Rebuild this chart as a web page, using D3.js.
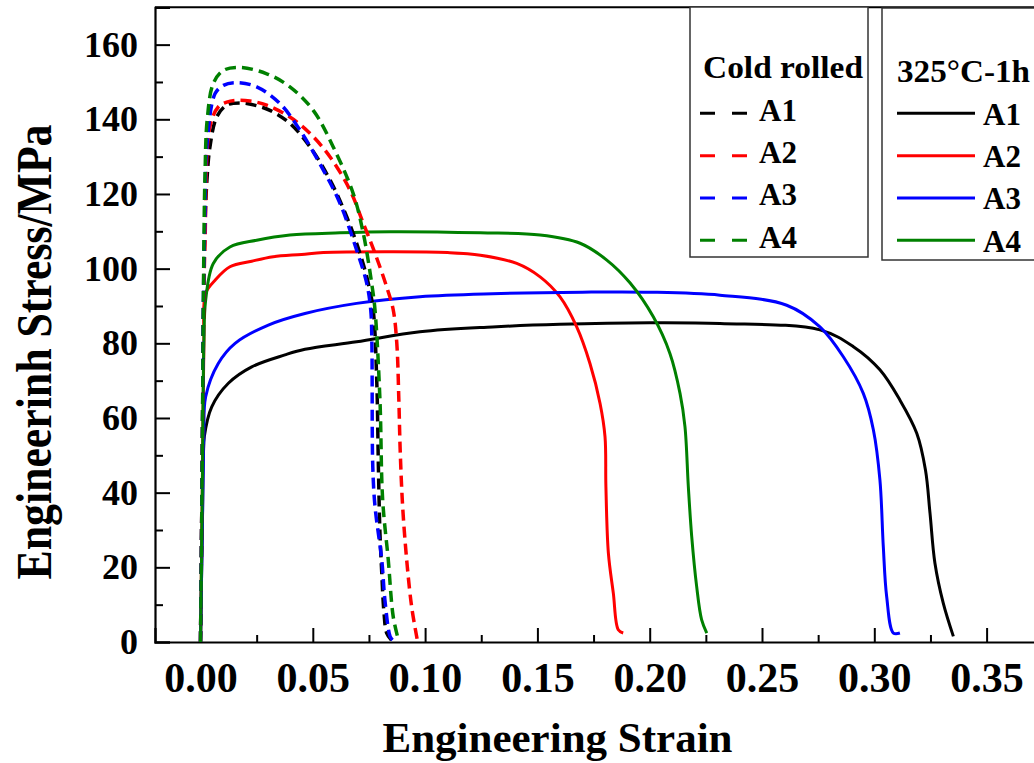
<!DOCTYPE html>
<html lang="en">
<head>
    <meta charset="UTF-8">
    <title>Engineering stress-strain curves</title>
    <style>
        body {
            margin: 0;
            background: #ffffff;
        }
        svg text {
            font-family: 'Liberation Serif', 'Times New Roman', serif;
            font-weight: bold;
        }
    </style>
</head>
<body>
    <div id="chart"></div>

    <script src="https://d3js.org/d3.v7.min.js"></script>
    <script>
        // Cold rolled curves (dashed), [strain, stress MPa]
        const coldA1 = [[0,0],[0.0008,50],[0.0014,90],[0.002,112],[0.003,125],[0.0042,132.6],[0.0072,140.6],[0.0117,143.8],
            [0.0176,144.4],[0.024,143.8],[0.0309,142.4],[0.0398,138.9],[0.0488,132.6],[0.0577,123.7],[0.0651,113.9],
            [0.071,104.1],[0.0747,96.1],[0.0769,88.9],[0.0785,69.3],[0.0792,47],[0.0799,29.2],[0.0807,18.5],
            [0.0817,7.8],[0.0829,2.4],[0.085,0.5]];
        const coldA2 = [[0,0],[0.0008,50],[0.0014,90],[0.002,106.8],[0.0042,138],[0.0079,143.3],[0.0117,144.6],[0.016,145.1],
            [0.022,144.9],[0.0295,143.8],[0.0398,140.6],[0.0488,136.2],[0.0577,129.9],[0.0666,121],[0.0725,112.1],
            [0.0777,104.1],[0.0829,95.1],[0.0858,89],[0.0874,80],[0.0883,65],[0.0889,51.5],[0.09,36.3],[0.0918,22],
            [0.094,9.5],[0.0965,0.6]];
        const coldA3 = [[0,0],[0.0008,50],[0.0013,91.6],[0.002,115],[0.0028,132.6],[0.0065,146.9],[0.0102,149.1],[0.0161,149.8],
            [0.025,148.7],[0.0354,144.2],[0.0443,137.1],[0.0547,126.4],[0.0621,117.5],[0.0695,105],[0.074,96.1],
            [0.0758,88.9],[0.0763,80],[0.0767,47],[0.0777,36.3],[0.0807,22],[0.0821,11.3],[0.0844,1.5],[0.0855,0.5]];
        const coldA4 = [[0,0],[0.0008,50],[0.0014,100],[0.002,125],[0.003,140],[0.0057,149.6],[0.0102,153.1],[0.0176,153.9],
            [0.0295,152.2],[0.0398,148.7],[0.0502,142.4],[0.0591,132.6],[0.068,120.1],[0.0725,109.4],[0.0762,96.1],
            [0.0777,88.9],[0.0799,64.8],[0.0811,38.1],[0.0836,22],[0.0858,6.8],[0.0881,0.6]];

        // 325°C-1h curves (solid)
        const annA1 = [[0,0],[0.0008,30],[0.0013,50],[0.0017,55],[0.005,63],[0.0124,69.3],[0.0228,73.7],[0.0376,76.9],
            [0.0465,78.4],[0.0695,80.4],[0.0977,83.1],[0.13,84.4],[0.16,85.1],[0.2,85.5],[0.2313,85.3],[0.2758,83.6],
            [0.2907,79.1],[0.3025,72.9],[0.3114,64.8],[0.3189,55.9],[0.3228,46],[0.3248,34.5],[0.327,21.1],
            [0.3307,10.4],[0.3352,1.5]];
        const annA2 = [[0,0],[0.0008,40],[0.0015,80],[0.0023,93.4],[0.0065,96.9],[0.0131,100.5],[0.0228,102],[0.0324,103.2],
            [0.045,103.8],[0.0547,104.3],[0.0844,104.5],[0.11,104.3],[0.1246,103.6],[0.1408,101.4],[0.1512,97.8],
            [0.16,92.5],[0.1675,84.4],[0.1734,74.6],[0.1779,63.9],[0.1801,55],[0.1805,41.6],[0.1816,23.8],
            [0.1838,13.1],[0.186,3.3],[0.1882,2.4]];
        const annA3 = [[0,0],[0.0008,30],[0.0015,55],[0.0023,65.7],[0.0079,74.6],[0.0154,80],[0.0302,84.9],[0.0465,88],
            [0.0695,90.7],[0.0977,92.5],[0.13,93.3],[0.17,93.7],[0.2,93.7],[0.2313,92.9],[0.261,90.2],[0.2758,84.4],
            [0.2862,76.4],[0.2951,66.6],[0.2996,56.8],[0.3025,43.4],[0.304,25.6],[0.3055,12.2],[0.3085,2.4],[0.3114,2.4]];
        const annA4 = [[0,0],[0.0008,40],[0.0015,80],[0.0023,91.6],[0.0057,101.4],[0.0131,105.8],[0.025,107.6],[0.0398,109],
            [0.0621,109.6],[0.0844,109.9],[0.1246,109.6],[0.1512,109],[0.169,106.8],[0.1809,102.3],[0.1912,96.2],
            [0.2016,87.1],[0.209,77.3],[0.2135,66.6],[0.2157,57.7],[0.2172,41.6],[0.2187,28.3],[0.2209,14.9],
            [0.2231,6],[0.2254,2.4]];

        const sampleNames = ['A1', 'A2', 'A3', 'A4'];
        const sampleColors = ['#000000', '#ff0000', '#0000ff', '#008000'];
        const xTicks = [0, 0.05, 0.10, 0.15, 0.20, 0.25, 0.30, 0.35];
        const yTicks = [0, 20, 40, 60, 80, 100, 120, 140, 160];

        const width = 1034, height = 763;
        const plotLeft = 155, plotTop = 7, plotBottom = 642;

        const svg = d3.select('#chart').append('svg')
            .attr('width', width)
            .attr('height', height)
            .style('background', '#ffffff');

        const x = d3.scaleLinear().domain([-0.02026, 0.375]).range([plotLeft, plotLeft + 0.39526 * 2246]);
        const y = d3.scaleLinear().domain([0, 170]).range([plotBottom, plotTop + 0.3]);

        // minor ticks first
        svg.append('g')
            .attr('transform', `translate(0,${plotBottom})`)
            .call(d3.axisBottom(x).tickValues(d3.range(0.025, 0.375, 0.05)).tickSize(-7).tickFormat(''))
            .call(g => g.select('.domain').remove())
            .selectAll('line').attr('stroke-width', 2);
        svg.append('g')
            .attr('transform', `translate(${plotLeft},0)`)
            .call(d3.axisLeft(y).tickValues(d3.range(10, 170, 20)).tickSize(-8).tickFormat(''))
            .call(g => g.select('.domain').remove())
            .selectAll('line').attr('stroke-width', 2);

        const xAxis = svg.append('g')
            .attr('transform', `translate(0,${plotBottom})`)
            .call(d3.axisBottom(x).tickValues(xTicks).tickSize(-14).tickFormat(d3.format('.2f')));
        xAxis.select('.domain').attr('stroke-width', 2.2);
        xAxis.selectAll('line').attr('stroke-width', 2);
        xAxis.selectAll('text')
            .attr('y', 50).attr('dy', null)
            .attr('fill', '#000')
            .style('font-size', '42px');

        const yAxis = svg.append('g')
            .attr('transform', `translate(${plotLeft},0)`)
            .call(d3.axisLeft(y).tickValues(yTicks).tickSize(-15).tickPadding(17));
        yAxis.select('.domain').attr('stroke-width', 2.2);
        yAxis.selectAll('line').attr('stroke-width', 2);
        yAxis.selectAll('text')
            .attr('fill', '#000')
            .style('font-size', '36px');

        // top frame
        svg.append('line')
            .attr('x1', plotLeft).attr('x2', width)
            .attr('y1', y(170)).attr('y2', y(170))
            .attr('stroke', '#000').attr('stroke-width', 2);

        const line = d3.line()
            .x(d => x(d[0]))
            .y(d => y(d[1]))
            .curve(d3.curveCatmullRom.alpha(0.5));

        const annealed = [annA1, annA2, annA3, annA4];
        const cold = [coldA1, coldA2, coldA3, coldA4];

        svg.selectAll('.solid')
            .data(annealed)
            .enter().append('path')
            .attr('class', 'solid')
            .attr('d', line)
            .attr('fill', 'none')
            .attr('stroke', (d, i) => sampleColors[i])
            .attr('stroke-width', 3);

        svg.selectAll('.dashed')
            .data(cold)
            .enter().append('path')
            .attr('class', 'dashed')
            .attr('d', line)
            .attr('fill', 'none')
            .attr('stroke', (d, i) => sampleColors[i])
            .attr('stroke-width', 3.5)
            .attr('stroke-dasharray', '11,6');

        // axis titles
        svg.append('text')
            .attr('x', 557.5).attr('y', 752)
            .attr('text-anchor', 'middle')
            .attr('textLength', 350).attr('lengthAdjust', 'spacingAndGlyphs')
            .style('font-size', '42px')
            .text('Engineering Strain');

        svg.append('text')
            .attr('transform', 'translate(51,352) rotate(-90)')
            .attr('text-anchor', 'middle')
            .attr('textLength', 455).attr('lengthAdjust', 'spacingAndGlyphs')
            .style('font-size', '50px')
            .text('Engineerinh Stress/MPa');

        // legend boxes
        const rowY = d3.scaleLinear().domain([0, 3]).range([113.3, 240.3]);

        const lg1 = svg.append('g');
        lg1.append('rect')
            .attr('x', 690).attr('y', 7).attr('width', 178).attr('height', 250)
            .attr('fill', '#fff').attr('stroke', '#333').attr('stroke-width', 1.5);
        lg1.append('text')
            .attr('x', 703).attr('y', 78)
            .attr('textLength', 160).attr('lengthAdjust', 'spacingAndGlyphs')
            .style('font-size', '31px')
            .text('Cold rolled');
        sampleNames.forEach((name, i) => {
            lg1.append('line')
                .attr('x1', 700).attr('x2', 747)
                .attr('y1', rowY(i)).attr('y2', rowY(i))
                .attr('stroke', sampleColors[i]).attr('stroke-width', 3)
                .attr('stroke-dasharray', '15,17');
            lg1.append('text')
                .attr('x', 759).attr('y', rowY(i) + 7.5)
                .style('font-size', '31px')
                .text(name);
        });

        const lg2 = svg.append('g');
        lg2.append('rect')
            .attr('x', 882).attr('y', 8).attr('width', 170).attr('height', 252)
            .attr('fill', '#fff').attr('stroke', '#333').attr('stroke-width', 1.5);
        lg2.append('text')
            .attr('x', 897).attr('y', 82)
            .attr('textLength', 133).attr('lengthAdjust', 'spacingAndGlyphs')
            .style('font-size', '31px')
            .text('325°C-1h');
        sampleNames.forEach((name, i) => {
            lg2.append('line')
                .attr('x1', 897).attr('x2', 975)
                .attr('y1', rowY(i)).attr('y2', rowY(i))
                .attr('stroke', sampleColors[i]).attr('stroke-width', 3);
            lg2.append('text')
                .attr('x', 983).attr('y', rowY(i) + 11.5)
                .style('font-size', '31px')
                .text(name);
        });
    </script>
</body>
</html>
